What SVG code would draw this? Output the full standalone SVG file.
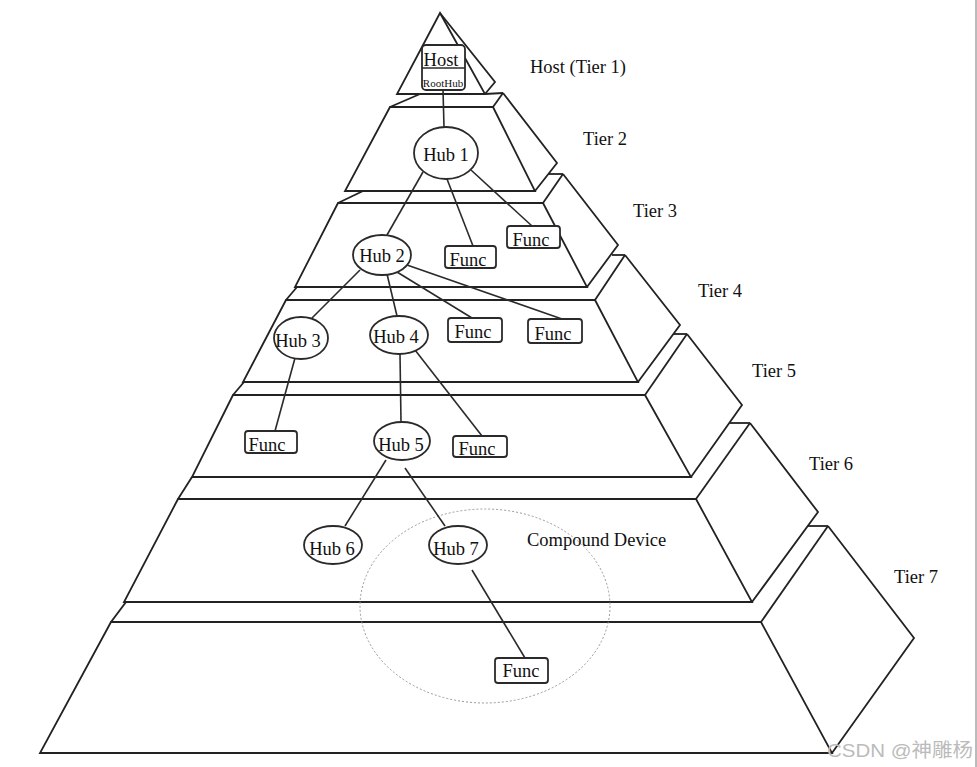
<svg xmlns="http://www.w3.org/2000/svg" width="977" height="767" viewBox="0 0 977 767">
<style>
.t{fill:none;stroke:#222;stroke-width:1.8;stroke-linejoin:miter}
.c{fill:none;stroke:#2a2a2a;stroke-width:1.6}
.hub{fill:#fff;stroke:#2a2a2a;stroke-width:1.8}
.box{fill:#fff;stroke:#2a2a2a;stroke-width:1.8}
text{font-family:"Liberation Serif","Times New Roman",serif;fill:#111;font-size:18.5px}
.m{text-anchor:middle}
</style>
<rect width="977" height="767" fill="#fff"/>
<line x1="976" y1="0" x2="976" y2="767" stroke="#777" stroke-width="1"/>
<g id="pyramid">
  <g id="tier1-shape">
    <polygon class="t" points="440,13 397,94 485,94"/>
    <polyline class="t" points="440,13 495,82 485,94"/>
  </g>
  <g id="tier2-shape">
    <line class="t" x1="390" y1="107" x2="420" y2="94"/>
    <line class="t" x1="485" y1="94" x2="503" y2="93"/>
    <polygon class="t" points="390,107 493,107 535,191 345,191"/>
    <line class="t" x1="493" y1="107" x2="503" y2="93"/>
    <polyline class="t" points="503,93 557,163 535,191"/>
  </g>
  <g id="tier3-shape">
    <line class="t" x1="338" y1="203" x2="363" y2="191"/>
    <line class="t" x1="549" y1="174" x2="563" y2="174"/>
    <polygon class="t" points="338,203 543,203 587,287 295,287"/>
    <line class="t" x1="543" y1="203" x2="563" y2="174"/>
    <polyline class="t" points="563,174 618,245 587,287"/>
  </g>
  <g id="tier4-shape">
    <line class="t" x1="286" y1="300" x2="297" y2="287"/>
    <line class="t" x1="612" y1="255" x2="625" y2="255"/>
    <polygon class="t" points="286,300 595,300 638,382 243,382"/>
    <line class="t" x1="595" y1="300" x2="625" y2="255"/>
    <polyline class="t" points="625,255 680,325 638,382"/>
  </g>
  <g id="tier5-shape">
    <line class="t" x1="233" y1="395" x2="244" y2="382"/>
    <line class="t" x1="673" y1="334" x2="687" y2="334"/>
    <polygon class="t" points="233,395 645,395 691,477 192,477"/>
    <line class="t" x1="645" y1="395" x2="687" y2="334"/>
    <polyline class="t" points="687,334 742,405 691,477"/>
  </g>
  <g id="tier6-shape">
    <line class="t" x1="178" y1="499" x2="192" y2="477"/>
    <line class="t" x1="730" y1="423" x2="750" y2="423"/>
    <polygon class="t" points="178,499 696,499 752,602 124,602"/>
    <line class="t" x1="696" y1="499" x2="750" y2="423"/>
    <polyline class="t" points="750,423 818,512 752,602"/>
  </g>
  <g id="tier7-shape">
    <line class="t" x1="111" y1="622" x2="126" y2="602"/>
    <line class="t" x1="808" y1="526" x2="828" y2="526"/>
    <polygon class="t" points="111,622 761,622 832,753 40,753"/>
    <line class="t" x1="761" y1="622" x2="828" y2="526"/>
    <polyline class="t" points="828,526 914,638 832,753"/>
  </g>
</g>
<g id="labels">
  <text x="530" y="73">Host (Tier 1)</text>
  <text x="583" y="145">Tier 2</text>
  <text x="633" y="217">Tier 3</text>
  <text x="698" y="297">Tier 4</text>
  <text x="752" y="377">Tier 5</text>
  <text x="809" y="470">Tier 6</text>
  <text x="894" y="583">Tier 7</text>
</g>
<g id="compound-device">
  <ellipse cx="485" cy="606" rx="125" ry="97" fill="none" stroke="#999" stroke-width="1" stroke-dasharray="2 2"/>
  <text x="527" y="546">Compound Device</text>
</g>
<g id="connectors">
  <line class="c" x1="443" y1="90" x2="444" y2="127"/>
  <line class="c" x1="423" y1="172" x2="387" y2="235"/>
  <line class="c" x1="447" y1="179" x2="473" y2="246"/>
  <line class="c" x1="471" y1="170" x2="532" y2="226"/>
  <line class="c" x1="360" y1="270" x2="312" y2="318"/>
  <line class="c" x1="387" y1="274" x2="397" y2="316"/>
  <line class="c" x1="397" y1="272" x2="472" y2="318"/>
  <line class="c" x1="407" y1="265" x2="562" y2="319"/>
  <line class="c" x1="295" y1="358" x2="275" y2="431"/>
  <line class="c" x1="400" y1="354" x2="401" y2="422"/>
  <line class="c" x1="415" y1="350" x2="482" y2="436"/>
  <line class="c" x1="386" y1="460" x2="345" y2="526"/>
  <line class="c" x1="405" y1="468" x2="445" y2="526"/>
  <line class="c" x1="472" y1="570" x2="525" y2="658"/>
</g>
<g id="host">
  <rect class="box" x="422" y="45" width="43" height="45" rx="4"/>
  <line class="c" x1="422" y1="68" x2="465" y2="68"/>
  <text class="m" x="441" y="66">Host</text>
  <text class="m" x="443" y="87" style="font-size:11px">RootHub</text>
</g>
<g id="hub1"><ellipse class="hub" cx="446" cy="153" rx="32" ry="26"/><text class="m" x="446" y="161">Hub 1</text></g>
<g id="hub2"><ellipse class="hub" cx="382" cy="255" rx="29" ry="20"/><text class="m" x="382" y="262">Hub 2</text></g>
<g id="hub3"><ellipse class="hub" cx="301" cy="338" rx="27" ry="21"/><text class="m" x="298" y="347">Hub 3</text></g>
<g id="hub4"><ellipse class="hub" cx="399" cy="335" rx="29" ry="19"/><text class="m" x="396" y="343">Hub 4</text></g>
<g id="hub5"><ellipse class="hub" cx="402" cy="441" rx="28" ry="19"/><text class="m" x="401" y="451">Hub 5</text></g>
<g id="hub6"><ellipse class="hub" cx="333" cy="545" rx="29" ry="19"/><text class="m" x="332" y="555">Hub 6</text></g>
<g id="hub7"><ellipse class="hub" cx="458" cy="545" rx="29" ry="19"/><text class="m" x="456" y="555">Hub 7</text></g>
<g id="func1"><rect class="box" x="445" y="246" width="51" height="22" rx="3"/><text class="m" x="468" y="266">Func</text></g>
<g id="func2"><rect class="box" x="507" y="226" width="53" height="22" rx="3"/><text class="m" x="531" y="246">Func</text></g>
<g id="func3"><rect class="box" x="448" y="318" width="54" height="24" rx="3"/><text class="m" x="473" y="338">Func</text></g>
<g id="func4"><rect class="box" x="528" y="319" width="54" height="24" rx="3"/><text class="m" x="553" y="340">Func</text></g>
<g id="func5"><rect class="box" x="245" y="431" width="52" height="22" rx="3"/><text class="m" x="267" y="451">Func</text></g>
<g id="func6"><rect class="box" x="453" y="436" width="54" height="21" rx="3"/><text class="m" x="477" y="455">Func</text></g>
<g id="func7"><rect class="box" x="495" y="658" width="53" height="25" rx="3"/><text class="m" x="521" y="677">Func</text></g>
<text x="827" y="757" textLength="146" lengthAdjust="spacingAndGlyphs" style="font-family:'Liberation Sans','Noto Sans CJK SC',sans-serif;font-size:19px;fill:#bbb">CSDN @神雕杨</text>
</svg>
